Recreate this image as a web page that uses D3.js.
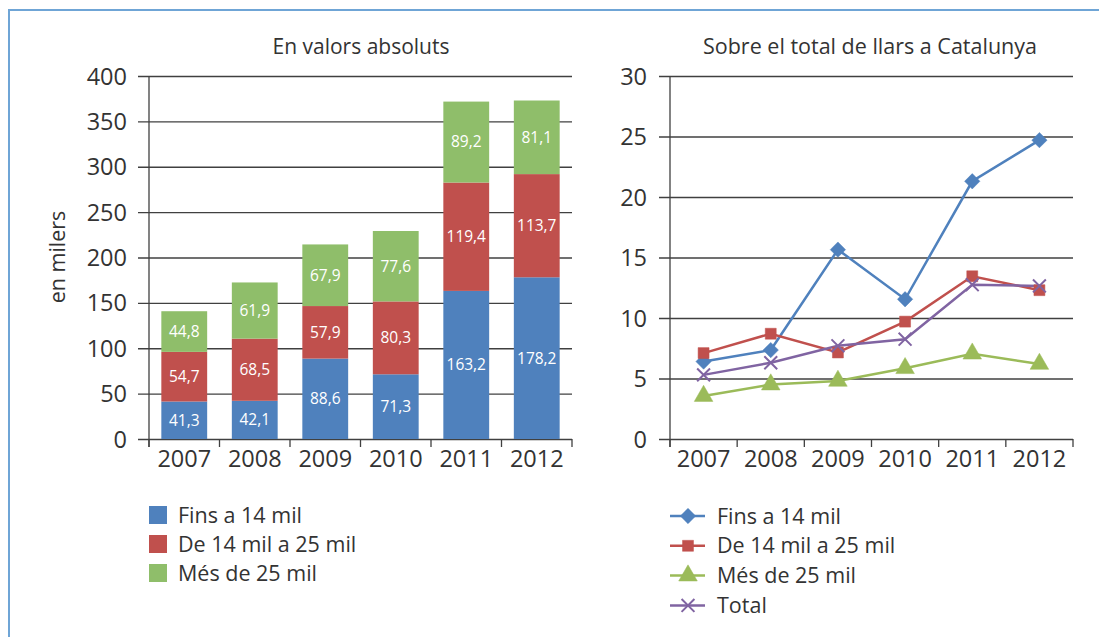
<!DOCTYPE html>
<html><head><meta charset="utf-8">
<script src="https://cdn.jsdelivr.net/npm/d3@7"></script>
<style>
body{margin:0;background:#fff;}
svg{display:block;font-family:"Open Sans",sans-serif;}
</style></head><body>
<svg id="c" width="1099" height="637"></svg>
<script>
const years = ["2007","2008","2009","2010","2011","2012"];
const seriesNames = ["Fins a 14 mil","De 14 mil a 25 mil","Més de 25 mil"];
const absLow = [41.3,42.1,88.6,71.3,163.2,178.2];
const absMid = [54.7,68.5,57.9,80.3,119.4,113.7];
const absHigh = [44.8,61.9,67.9,77.6,89.2,81.1];
const pctLow = [6.4,7.35,15.65,11.55,21.3,24.7];
const pctMid = [7.1,8.7,7.15,9.7,13.45,12.3];
const pctHigh = [3.55,4.5,4.8,5.85,7.05,6.2];
const pctTotal = [5.3,6.3,7.7,8.25,12.75,12.65];
const leftTicks = [0,50,100,150,200,250,300,350,400];
const rightTicks = [0,5,10,15,20,25,30];
const colors = ["#4F81BD","#C0504D","#8FBE6A","#8064A2"];
const lineColors = ["#4F81BD","#C0504D","#9BBB59","#8064A2"];

const svg = d3.select("#c");
const fmt = v => String(v.toFixed(1)).replace(".", ",");
const axisCol = "#404040";
const textCol = "#333333";
const tickFont = 23.5;
const legFont = 21.5;

// frame
svg.append("path").attr("d","M9,637 L9,10 L1099,10").attr("fill","none")
  .attr("stroke","#6FA5D6").attr("stroke-width",2);

function frame(g, x, y, yTicks, x0, x1, y0, y1, labelRight){
  g.append("g").attr("transform",`translate(${x0},0)`)
   .call(d3.axisLeft(y).tickValues(yTicks).tickSize(-(x1-x0)).tickPadding(12).tickFormat(d3.format("d")))
   .call(a=>{
     a.select(".domain").remove();
     a.selectAll(".tick line").attr("x1",-11).attr("stroke",axisCol).attr("stroke-width",1.3);
     a.selectAll(".tick text").attr("font-size",tickFont).attr("fill",textCol).attr("font-family","Open Sans")
      .attr("x",labelRight - x0).attr("dy","0.34em");
   });
  g.append("line").attr("x1",x0).attr("x2",x0).attr("y1",y1).attr("y2",y0+8)
   .attr("stroke",axisCol).attr("stroke-width",1.3);
  g.append("g").attr("transform",`translate(0,${y0})`)
   .call(d3.axisBottom(x).tickSize(0).tickPadding(11))
   .call(a=>{
     a.select(".domain").remove();
     a.selectAll(".tick text").attr("font-size",tickFont).attr("fill",textCol).attr("font-family","Open Sans");
   });
  const bounds = years.map(d=>x(d)).concat([x1]);
  g.selectAll(null).data(bounds).join("line")
   .attr("x1",d=>d).attr("x2",d=>d).attr("y1",y0).attr("y2",y0+8)
   .attr("stroke",axisCol).attr("stroke-width",1.3);
}

// ---- Left chart ----
{
  const x0=149,x1=572,y0=439,y1=76;
  const x = d3.scaleBand().domain(years).range([x0,x1]).paddingInner(0.35).paddingOuter(0.175);
  const y = d3.scaleLinear().domain([0,400]).range([y0,y1]);
  const g = svg.append("g");
  const xb = d3.scaleBand().domain(years).range([x0,x1]);
  frame(g, xb, y, leftTicks, x0, x1, y0, y1, 127);
  const rows = years.map((yr,i)=>({year:yr, low:absLow[i], mid:absMid[i], high:absHigh[i]}));
  const stack = d3.stack().keys(["low","mid","high"])(rows);
  stack.forEach((s,si)=>{
    const sg = g.append("g");
    sg.selectAll("rect").data(s).join("rect")
      .attr("x",d=>x(d.data.year)).attr("width",x.bandwidth())
      .attr("y",d=>y(d[1])).attr("height",d=>y(d[0])-y(d[1]))
      .attr("fill",colors[si]);
    sg.selectAll("text").data(s).join("text")
      .attr("x",d=>x(d.data.year)+x.bandwidth()/2)
      .attr("y",d=>(y(d[0])+y(d[1]))/2).attr("dy","0.35em")
      .attr("text-anchor","middle").attr("font-size",15.5).attr("fill","#fff")
      .text(d=>fmt(d[1]-d[0]));
  });
  g.append("text").attr("x",361).attr("y",54).attr("text-anchor","middle")
   .attr("font-size",21).attr("fill",textCol).text("En valors absoluts");
  g.append("text").attr("transform","translate(65,257) rotate(-90)").attr("text-anchor","middle")
   .attr("font-size",21.5).attr("fill",textCol).text("en milers");
  const lg = g.append("g");
  seriesNames.forEach((n,i)=>{
    const cy = 515 + i*29;
    lg.append("rect").attr("x",149).attr("y",cy-9).attr("width",18).attr("height",18).attr("fill",colors[i]);
    lg.append("text").attr("x",178).attr("y",cy).attr("dy","0.35em").attr("font-size",legFont).attr("fill",textCol).text(n);
  });
}

// ---- Right chart ----
{
  const x0=670,x1=1073,y0=439,y1=76;
  const x = d3.scaleBand().domain(years).range([x0,x1]);
  const y = d3.scaleLinear().domain([0,30]).range([y0,y1]);
  const g = svg.append("g");
  frame(g, x, y, rightTicks, x0, x1, y0, y1, 647);
  const cx = d => x(d)+x.bandwidth()/2;
  const data = [pctLow,pctMid,pctHigh,pctTotal];
  const shapes = [d3.symbolDiamond2, d3.symbolSquare, d3.symbolTriangle, d3.symbolX];
  const sizes = [150,120,150,110];
  const names = seriesNames.concat(["Total"]);
  const line = d3.line().x((d,i)=>cx(years[i])).y(d=>y(d));
  data.forEach((vals,si)=>{
    g.append("path").datum(vals).attr("d",line).attr("fill","none")
     .attr("stroke",lineColors[si]).attr("stroke-width",2.5);
  });
  data.forEach((vals,si)=>{
    const sym = d3.symbol().type(shapes[si]).size(sizes[si]);
    g.selectAll(null).data(vals).join("path")
     .attr("transform",(d,i)=>`translate(${cx(years[i])},${y(d)})`)
     .attr("d",sym)
     .attr("fill",si===3?"none":lineColors[si])
     .attr("stroke",lineColors[si]).attr("stroke-width",si===3?2:0.5);
  });
  g.append("text").attr("x",870).attr("y",54).attr("text-anchor","middle")
   .attr("font-size",21.5).attr("fill",textCol).text("Sobre el total de llars a Catalunya");
  names.forEach((n,i)=>{
    const cy = 516 + i*29.8;
    g.append("line").attr("x1",670).attr("x2",705).attr("y1",cy).attr("y2",cy)
     .attr("stroke",lineColors[i]).attr("stroke-width",2.5);
    g.append("path").attr("transform",`translate(688,${cy})`)
     .attr("d",d3.symbol().type(shapes[i]).size(sizes[i])())
     .attr("fill",i===3?"none":lineColors[i]).attr("stroke",lineColors[i]).attr("stroke-width",i===3?2:0.5);
    g.append("text").attr("x",717).attr("y",cy).attr("dy","0.35em").attr("font-size",legFont).attr("fill",textCol).text(n);
  });
}
</script></body></html>
